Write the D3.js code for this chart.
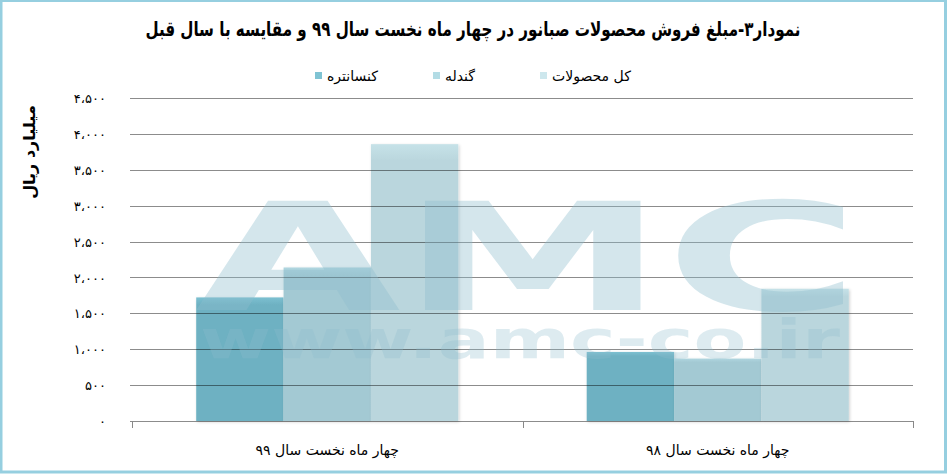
<!DOCTYPE html>
<html lang="fa">
<head>
<meta charset="utf-8">
<script src="https://cdn.jsdelivr.net/npm/d3@7"></script>
<style>
  html, body { margin: 0; padding: 0; background: #fff; }
  svg { display: block; }
  text { font-family: "DejaVu Sans", "Noto Sans", sans-serif; }
</style>
</head>
<body>
<svg id="chart" width="947" height="474"></svg>
<script>
const title = "نمودار۳-مبلغ فروش محصولات صبانور در چهار ماه نخست سال ۹۹ و مقایسه با سال قبل";
const yTitle = "میلیارد ریال";
const categories = ["چهار ماه نخست سال ۹۹", "چهار ماه نخست سال ۹۸"];
const seriesNames = ["کنسانتره", "گندله", "کل محصولات"];
const concentrate = [1722, 962];
const pellet = [2139, 870];
const total = [3857, 1843];
const tickValues = [0, 500, 1000, 1500, 2000, 2500, 3000, 3500, 4000, 4500];
const tickLabels = ["۰", "۵۰۰", "۱،۰۰۰", "۱،۵۰۰", "۲،۰۰۰", "۲،۵۰۰", "۳،۰۰۰", "۳،۵۰۰", "۴،۰۰۰", "۴،۵۰۰"];

const barColors = ["#6eb1c2", "#a3c9d3", "#bad6dd"];
const barTopColors = ["#7cc0d1", "#b0d6e0", "#c6e2e8"];
const legendColors = ["#7fc3d3", "#b3dce5", "#cde7ed"];

const seriesValues = [concentrate, pellet, total];
const rows = categories.map((c, i) => ({
  cat: c,
  vals: seriesNames.map((s, j) => ({ s, j, v: seriesValues[j][i] }))
}));

const svg = d3.select("#chart");
const W = 947, H = 474;

// frame
svg.append("rect").attr("x", 1).attr("y", 0.5).attr("width", W - 2.5).attr("height", H - 2.5)
  .attr("fill", "#fff").attr("stroke", "#96cfe0").attr("stroke-width", 3);

const defs = svg.append("defs");
const f = defs.append("filter").attr("id", "sh").attr("x", "-10%").attr("y", "-10%").attr("width", "130%").attr("height", "120%");
f.append("feDropShadow").attr("dx", 1).attr("dy", 1).attr("stdDeviation", 1.5).attr("flood-color", "#000").attr("flood-opacity", 0.18);
barColors.forEach((c, i) => {
  const lgd = defs.append("linearGradient").attr("id", "bg" + i)
    .attr("gradientUnits", "objectBoundingBox").attr("x1", 0).attr("y1", 0).attr("x2", 0).attr("y2", 1);
  lgd.append("stop").attr("offset", "0").attr("stop-color", barTopColors[i]);
  lgd.append("stop").attr("offset", "0.06").attr("stop-color", c);
  lgd.append("stop").attr("offset", "1").attr("stop-color", c);
});

const y = d3.scaleLinear().domain([0, 4500]).range([421, 98]);
const x0 = d3.scaleBand().domain(categories).range([132, 913]).padding(0);
const x1 = d3.scaleBand().domain(seriesNames).range([0, x0.bandwidth()]).paddingInner(0).paddingOuter(0.735);

// title
svg.append("text").attr("x", 473).attr("y", 36).attr("text-anchor", "middle")
  .attr("font-size", 20).attr("font-weight", "bold").attr("fill", "#000")
  .attr("direction", "rtl")
  .attr("textLength", 655).attr("lengthAdjust", "spacingAndGlyphs")
  .text(title);

// legend
const legendItems = [
  { name: seriesNames[0], color: legendColors[0], sx: 315 },
  { name: seriesNames[1], color: legendColors[1], sx: 433 },
  { name: seriesNames[2], color: legendColors[2], sx: 540 }
];
const lg = svg.append("g");
legendItems.forEach(d => {
  lg.append("rect").attr("x", d.sx).attr("y", 72).attr("width", 7).attr("height", 7).attr("fill", d.color);
  lg.append("text").attr("x", d.sx + 12).attr("y", 81).attr("font-size", 14).attr("fill", "#000")
    .attr("text-anchor", "start").attr("direction", "ltr").attr("unicode-bidi", "plaintext").text(d.name);
});

// bars
const g = svg.append("g");
g.selectAll("g.cat").data(rows).join("g").attr("class", "cat")
  .attr("transform", d => `translate(${x0(d.cat)},0)`)
  .selectAll("rect").data(d => d.vals).join("rect")
  .attr("x", d => x1(d.s)).attr("width", x1.bandwidth())
  .attr("y", d => y(d.v)).attr("height", d => y(0) - y(d.v))
  .attr("fill", d => `url(#bg${d.j})`).attr("filter", "url(#sh)");

// gridlines (over bars, semi-transparent)
const yAxis = d3.axisLeft(y).tickValues(tickValues).tickSize(0).tickPadding(0)
  .tickFormat((d, i) => tickLabels[i]);
const grid = svg.append("g");
grid.selectAll("line").data(tickValues).join("line")
  .attr("x1", 130).attr("x2", 913)
  .attr("y1", d => Math.round(y(d)) + 0.5).attr("y2", d => Math.round(y(d)) + 0.5)
  .attr("stroke", "#000").attr("stroke-opacity", 0.45).attr("stroke-width", 1);

// axis labels
const ax = svg.append("g").attr("transform", "translate(106,0)").call(yAxis);
ax.select(".domain").remove();
ax.selectAll("text").attr("font-size", 13).attr("fill", "#000")
  .attr("font-family", "DejaVu Sans, sans-serif").attr("dy", "0.35em");

// x axis ticks
const xTickPos = [x0.range()[0], ...categories.map(c => x0(c) + x0.bandwidth())];
svg.selectAll("line.xt").data(xTickPos).join("line").attr("class", "xt")
  .attr("x1", d => Math.round(d) + 0.5).attr("x2", d => Math.round(d) + 0.5)
  .attr("y1", y(0)).attr("y2", y(0) + 7)
  .attr("stroke", "#888");

// category labels
svg.selectAll("text.cat").data(categories).join("text").attr("class", "cat")
  .attr("x", d => x0(d) + x0.bandwidth() / 2).attr("y", 455)
  .attr("text-anchor", "middle").attr("font-size", 14).attr("fill", "#000")
  .attr("direction", "rtl").text(d => d);

// y title
svg.append("text").attr("transform", "translate(35,152) rotate(-90)")
  .attr("text-anchor", "middle").attr("font-size", 16).attr("font-weight", "bold")
  .attr("fill", "#000").attr("direction", "rtl").text(yTitle);

// watermark (on top, translucent)
const wm = svg.append("g").attr("pointer-events", "none");
wm.append("text").attr("x", 195).attr("y", 310).attr("font-size", 150).attr("font-weight", "bold")
  .attr("font-family", "DejaVu Sans, sans-serif")
  .attr("fill", "#8fbccc").attr("fill-opacity", 0.38)
  .attr("textLength", 665).attr("lengthAdjust", "spacingAndGlyphs").text("AMC");
wm.append("text").attr("x", 200).attr("y", 358).attr("font-size", 54).attr("font-weight", "bold")
  .attr("font-family", "DejaVu Sans, sans-serif")
  .attr("fill", "#8fbccc").attr("fill-opacity", 0.3)
  .attr("textLength", 640).attr("lengthAdjust", "spacingAndGlyphs").text("www.amc-co.ir");
</script>
</body>
</html>
